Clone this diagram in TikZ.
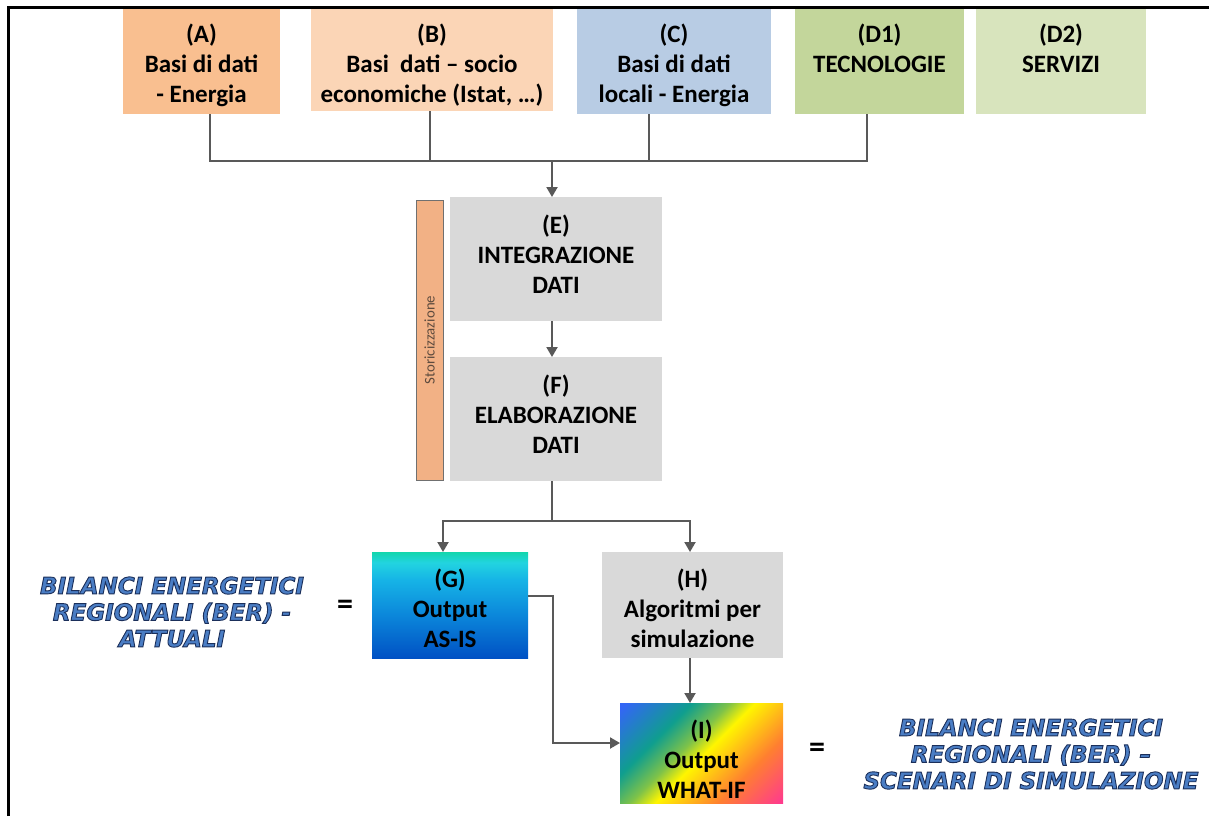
\documentclass[tikz,border=0pt]{standalone}
\usepackage{fontspec}
\setmainfont{Carlito}
\newfontfamily\wordart[Ligatures=TeX]{DejaVu Sans}
\usetikzlibrary{arrows.meta}

\definecolor{cA}{HTML}{F9BF90}
\definecolor{cB}{HTML}{FBD5B6}
\definecolor{cC}{HTML}{B8CCE4}
\definecolor{cDa}{HTML}{C3D69B}
\definecolor{cDb}{HTML}{D8E4BD}
\definecolor{cGray}{HTML}{D9D9D9}
\definecolor{cBar}{HTML}{F2B185}
\definecolor{cBarLine}{HTML}{707070}
\definecolor{cBarText}{HTML}{5E4B3E}
\definecolor{cLine}{HTML}{595959}
\definecolor{gT}{HTML}{12D6AC}
\definecolor{gT2}{HTML}{22D4E0}
\definecolor{gM2}{HTML}{16B4E6}
\definecolor{gM1}{HTML}{0B86DA}
\definecolor{gB}{HTML}{0051C4}
\definecolor{iBlue}{HTML}{3366F5}
\definecolor{iTeal}{HTML}{0F9E8E}
\definecolor{iGreen}{HTML}{7DC24A}
\definecolor{iYellow}{HTML}{FFF500}
\definecolor{iOrange}{HTML}{FF7F30}
\definecolor{iPink}{HTML}{FF3A8E}
\definecolor{waFill}{HTML}{4A7DC4}

\pgfdeclareverticalshading{gshade}{100bp}{color(0bp)=(gB); color(25bp)=(gB); color(45bp)=(gM1); color(62bp)=(gM2); color(70bp)=(gT2); color(75bp)=(gT); color(100bp)=(gT)}
\pgfdeclarehorizontalshading{ishade}{100bp}{color(0bp)=(iBlue); color(16bp)=(iBlue); color(34bp)=(iTeal); color(44bp)=(iGreen); color(51bp)=(iYellow); color(68bp)=(iOrange); color(85bp)=(iPink); color(100bp)=(iPink)}

\newcommand{\wa}[1]{{\color{waFill}\special{pdf:literal direct 2 Tr 0.9 w 0.106 0.184 0.353 RG}#1\special{pdf:literal direct 0 Tr}}}

\begin{document}
\begin{tikzpicture}[x=1pt,y=-1pt,
  boxshape/.style={rectangle, inner sep=0pt, outer sep=0pt},
  lbl/.style={font=\bfseries\fontsize{25}{30}\selectfont, align=center, inner sep=0pt, anchor=north, text=black},
  wordtxt/.style={font=\wordart\bfseries\itshape\fontsize{23}{26.5}\selectfont, align=center, inner sep=0pt},
  eqsign/.style={font=\bfseries\fontsize{32}{32}\selectfont, inner sep=0pt},
  conn/.style={draw=cLine, line width=2pt},
  arr/.style={conn, -{Triangle[length=10pt,width=11pt]}}
]
\useasboundingbox (0,0) rectangle (1209,816);
\fill[white] (0,0) rectangle (1209,816);
\draw[line width=3pt] (8,816) -- (8,8) -- (1209,8);

% top row
\node[boxshape, fill=cA, minimum width=157pt, minimum height=105pt] (A) at (201.5,61.5) {};
\node[boxshape, fill=cB, minimum width=242pt, minimum height=102pt] (B) at (432,60) {};
\node[boxshape, fill=cC, minimum width=194pt, minimum height=105pt] (C) at (674,61.5) {};
\node[boxshape, fill=cDa, minimum width=169pt, minimum height=105pt] (D1) at (879.5,61.5) {};
\node[boxshape, fill=cDb, minimum width=170pt, minimum height=105pt] (D2) at (1061,61.5) {};
\node[lbl] (At) at ([yshift=-15pt]A.north) {(A)\\Basi di dati\\- Energia};
\node[lbl] (Bt) at ([yshift=-15pt]B.north) {(B)\\Basi\ \ dati – socio\\economiche (Istat, …)};
\node[lbl] (Ct) at ([yshift=-15pt]C.north) {(C)\\Basi di dati\\locali - Energia};
\node[lbl] (D1t) at ([yshift=-15pt]D1.north) {(D1)\\TECNOLOGIE};
\node[lbl] (D2t) at ([yshift=-15pt]D2.north) {(D2)\\SERVIZI};

% middle
\node[boxshape, fill=cBar, draw=cBarLine, line width=1pt, minimum width=27pt, minimum height=280pt] (S) at (429.5,340) {};
\node[rotate=90, inner sep=0pt, text=cBarText, font=\fontsize{14.8}{15}\selectfont] (St) at (S.center) {Storicizzazione};
\node[boxshape, fill=cGray, minimum width=212pt, minimum height=124pt] (E) at (556,259) {};
\node[boxshape, fill=cGray, minimum width=212pt, minimum height=124pt] (F) at (556,419) {};
\node[lbl] (Et) at ([yshift=-18pt]E.north) {(E)\\INTEGRAZIONE\\DATI};
\node[lbl] (Ft) at ([yshift=-18pt]F.north) {(F)\\ELABORAZIONE\\DATI};

% bottom
\node[boxshape, shading=gshade, minimum width=156pt, minimum height=106pt] (G) at (450,605) {};
\node[boxshape, fill=cGray, minimum width=181pt, minimum height=106pt] (H) at (692.5,605) {};
\node[boxshape, shading=ishade, shading angle=-45, minimum width=163pt, minimum height=100pt] (I) at (701.5,753) {};
\node[lbl] (Gt) at ([yshift=-17pt]G.north) {(G)\\Output\\AS-IS};
\node[lbl] (Ht) at ([yshift=-17pt]H.north) {(H)\\Algoritmi per\\simulazione};
\node[lbl] (It) at ([yshift=-17pt]I.north) {(I)\\Output\\WHAT-IF};

% word art labels and equal signs
\node[wordtxt] (L1) at (172,612) {\wa{BILANCI ENERGETICI}\\\wa{REGIONALI (BER) -}\\\wa{ATTUALI}};
\node[wordtxt] (L2) at (1031,754) {\wa{BILANCI ENERGETICI}\\\wa{REGIONALI (BER) –}\\\wa{SCENARI DI SIMULAZIONE}};
\node[eqsign] (eq1) at (345,607) {=};
\node[eqsign] (eq2) at (817,750) {=};

% connectors
\coordinate (bA) at (210,161);
\coordinate (bB) at (430,161);
\coordinate (bus) at (552,161);
\coordinate (bC) at (649,161);
\coordinate (bD) at (867,161);
\draw[conn] (A.south -| bA) -- (bA) -- (bD) -- (D1.south -| bD);
\draw[conn] (B.south -| bB) -- (bB);
\draw[conn] (C.south -| bC) -- (bC);
\draw[arr] (bus) -- (E.north -| bus);
\draw[arr] (E.south -| bus) -- (F.north -| bus);
\coordinate (split) at (552,521);
\coordinate (sG) at (443,521);
\coordinate (sH) at (690,521);
\draw[conn] (F.south -| split) -- (split);
\draw[arr] (split) -- (sG) -- (G.north -| sG);
\draw[arr] (split) -- (sH) -- (H.north -| sH);
\coordinate (gi) at (553,596);
\draw[arr] (G.east |- gi) -- (gi) |- ([yshift=10pt]I.west);
\draw[arr] (H.south -| sH) -- (I.north -| sH);
\end{tikzpicture}
\end{document}
